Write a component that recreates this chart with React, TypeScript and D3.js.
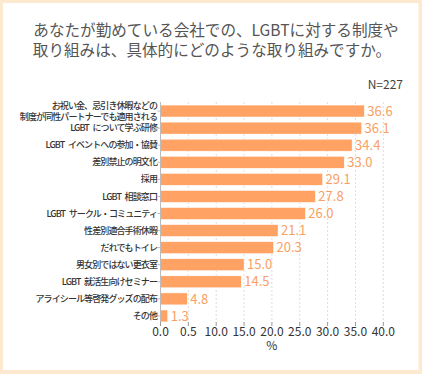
import React from "react";
import * as d3 from "d3";

const categories = [
  "お祝い金、忌引き休暇などの\n制度が同性パートナーでも適用される",
  "LGBT について学ぶ研修",
  "LGBT イベントへの参加・協賛",
  "差別禁止の明文化",
  "採用",
  "LGBT 相談窓口",
  "LGBT サークル・コミュニティ",
  "性差別適合手術休暇",
  "だれでもトイレ",
  "男女別ではない更衣室",
  "LGBT 就活生向けセミナー",
  "アライシール等啓発グッズの配布",
  "その他",
];
const values = [36.6, 36.1, 34.4, 33.0, 29.1, 27.8, 26.0, 21.1, 20.3, 15.0, 14.5, 4.8, 1.3];
const tickValues = [0, 5, 10, 15, 20, 25, 30, 35, 40];
const tickLabels = ["0.0", "0.5", "10.0", "15.0", "20.0", "25.0", "30.0", "35.0", "40.0"];

const W = 422;
const H = 374;
const font = "'Noto Sans CJK JP', 'Noto Sans', sans-serif";
const barColor = "#ffa264";

export default function App() {
  const x = d3.scaleLinear().domain([0, 40]).range([160.5, 383.3]);
  const y = d3
    .scaleBand<number>()
    .domain(d3.range(categories.length))
    .range([102.5, 324.5])
    .paddingInner(0.3)
    .paddingOuter(0.15);

  return (
    <svg width={W} height={H} style={{ position: "absolute", left: 0, top: 0 }}>
      <rect x={0} y={0} width={W} height={H} fill="#fde8d0" />
      <rect x={3} y={3} width={415.5} height={367} fill="#fff" />

      <g fontFamily={font} fill="#555" fontSize={15.6} textAnchor="middle">
        <text x={216} y={35.5}>あなたが勤めている会社での、LGBTに対する制度や</text>
        <text x={212} y={55.5}>取り組みは、具体的にどのような取り組みですか。</text>
      </g>
      <text x={403} y={89} textAnchor="end" fontFamily={font} fontSize={12} fill="#444">
        N=227
      </text>

      {/* grid */}
      {tickValues.slice(1).map((t) => (
        <line
          key={t}
          x1={x(t)}
          x2={x(t)}
          y1={102}
          y2={323}
          stroke="#ddd"
          strokeWidth={1}
          strokeDasharray="2,2"
        />
      ))}

      {/* bars */}
      {values.map((v, i) => (
        <rect
          key={i}
          x={x(0)}
          y={y(i)}
          width={x(v) - x(0)}
          height={y.bandwidth()}
          fill={barColor}
          stroke="#fff"
          strokeWidth={0.5}
        />
      ))}

      {/* value labels */}
      {values.map((v, i) => (
        <text
          key={i}
          x={x(v) + 3}
          y={y(i)! + y.bandwidth() / 2}
          dy="0.36em"
          fontFamily={font}
          fontSize={13}
          fill="#f9a063"
        >
          {v.toFixed(1)}
        </text>
      ))}

      {/* y axis */}
      <line x1={x(0)} x2={x(0)} y1={102} y2={323} stroke="#bbb" />
      {categories.map((c, i) => {
        const cy = y(i)! + y.bandwidth() / 2;
        const lines = c.split("\n");
        const lh = 11;
        return (
          <g key={i}>
            <line x1={x(0) - 3} x2={x(0)} y1={cy} y2={cy} stroke="#bbb" />
            <text
              y={cy - ((lines.length - 1) * lh) / 2}
              textAnchor="end"
              fontFamily={font}
              fontSize={9}
              letterSpacing={-0.9}
              fontWeight={500}
              fill="#333"
            >
              {lines.map((l, k) => (
                <tspan key={k} x={157} dy={k === 0 ? "0.35em" : lh}>
                  {l.replace(" ", "\u2002")}
                </tspan>
              ))}
            </text>
          </g>
        );
      })}

      {/* x axis */}
      {tickValues.map((t, i) => (
        <g key={t}>
          <line x1={x(t)} x2={x(t)} y1={322} y2={326} stroke="#999" />
          <text
            x={x(t)}
            y={335.5}
            textAnchor="middle"
            fontFamily={font}
            fontSize={12}
            fill="#333"
          >
            {tickLabels[i]}
          </text>
        </g>
      ))}
      <text x={(x(0) + x(40)) / 2} y={350} textAnchor="middle" fontFamily={font} fontSize={12} fill="#333">
        %
      </text>
    </svg>
  );
}
